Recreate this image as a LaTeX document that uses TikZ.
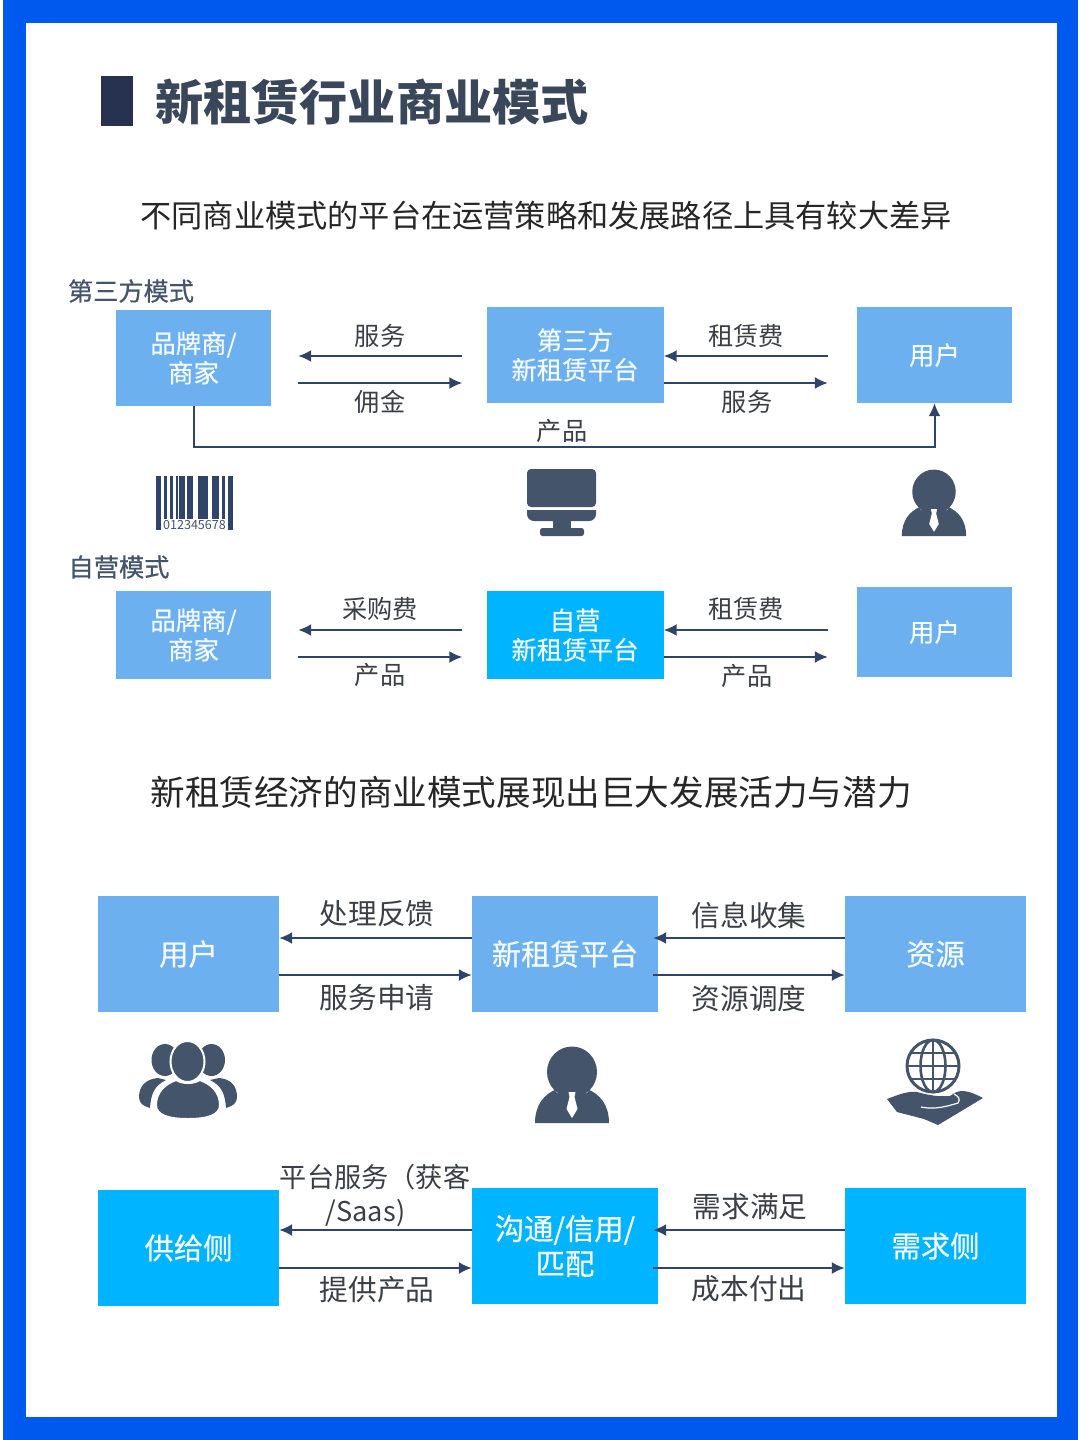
\documentclass[tikz,border=0pt]{standalone}
\usepackage{fontspec}
\setmainfont{Noto Sans CJK SC}
\newfontfamily\medfont[FakeBold=0.6]{Noto Sans CJK SC}
\usetikzlibrary{arrows.meta}

\definecolor{framecol}{HTML}{0059EE}
\definecolor{boxcol}{HTML}{6CB0F0}
\definecolor{cyancol}{HTML}{00B4FF}
\definecolor{iconcol}{HTML}{44546A}
\definecolor{linecol}{HTML}{2F4468}
\definecolor{markcol}{HTML}{26324F}
\definecolor{textcol}{HTML}{3B3F46}

\newcommand{\fs}[1]{\fontsize{#1}{#1}\selectfont}

\tikzset{
  box/.style={minimum width=#1,inner sep=0pt,align=center,text=white!92!boxcol,font=\medfont\fontsize{25.4}{29.5}\selectfont},
  bluebox/.style={box=#1,fill=boxcol},
  cyanbox/.style={box=#1,fill=cyancol},
  label/.style={inner sep=0pt,align=center,text=textcol,font=\fs{25.2}},
  biglabel/.style={inner sep=0pt,align=center,text=textcol,font=\fontsize{28.7}{34}\selectfont},
  flow/.style={->,linecol,line width=2pt},
  personicon/.pic={
    \fill[iconcol] (-37,76) .. controls (-37,58) and (-28,47) .. (-15,42) -- (15,42)
      .. controls (28,47) and (37,58) .. (37,76) -- cycle;
    \fill[white] (-19,40) -- (-15,46) -- (15,46) -- (19,40) -- (19,36) -- (-19,36) -- cycle;
    \fill[iconcol] (-11,42) rectangle (11,50);
    \fill[iconcol] (0,25) ellipse (25 and 25.5);
    \fill[white] (-3.5,45) -- (3.5,45) -- (2.5,50) -- (5.5,62) -- (0,71) -- (-5.5,62) -- (-2.5,50) -- cycle;
  }
}

\begin{document}
\begin{tikzpicture}[x=1pt,y=-1pt,>={Latex[length=13pt,width=12pt]}]
  \useasboundingbox (0,0) rectangle (1080,1440);

  % frame
  \fill[framecol] (3,0) rectangle (1078,1440);
  \fill[white] (26,23) rectangle (1057,1417);

  % headings
  \fill[markcol] (101,76) rectangle (133,126);
  \node[inner sep=0pt,text=iconcol!85!black,font=\bfseries\fs{48.2}] (title) at (372,102) {新租赁行业商业模式};
  \node[inner sep=0pt,text=black!85,font=\fs{31.2}] (sub1) at (546,216) {不同商业模式的平台在运营策略和发展路径上具有较大差异};
  \node[inner sep=0pt,text=black!85,font=\fs{34.6}] (sub2) at (531,792) {新租赁经济的商业模式展现出巨大发展活力与潜力};
  \node[label,text=iconcol,font=\medfont\fs{25.2}] (mode1) at (131,291) {第三方模式};
  \node[label,text=iconcol,font=\medfont\fs{25.2}] (mode2) at (119,567) {自营模式};

  % row 1
  \node[bluebox=155pt,minimum height=96pt] (brand1) at (193.5,358) {品牌商/\\商家};
  \node[bluebox=177pt,minimum height=96pt] (plat1)  at (575,355)   {第三方\\新租赁平台};
  \node[bluebox=155pt,minimum height=96pt] (user1)  at (934.5,355) {用户};
  \coordinate (turn1) at (560,447);

  \draw[flow,shorten <=24pt,shorten >=27pt] ([yshift=-1pt]plat1.west) -- ([yshift=2pt]brand1.east);
  \draw[flow,shorten <=27pt,shorten >=24pt] ([yshift=-25pt]brand1.east) -- ([yshift=-28pt]plat1.west);
  \draw[flow,shorten <=29pt] ([yshift=-1pt]user1.west) -- ([yshift=-1pt]plat1.east);
  \draw[flow,shorten >=29pt] ([yshift=-28pt]plat1.east) -- ([yshift=-28pt]user1.west);
  \draw[flow] (brand1.south) |- (turn1) -| (user1.south);

  \node[label] (l1a) at (380,336) {服务};
  \node[label] (l1b) at (380,402) {佣金};
  \node[label] (l1c) at (746,336) {租赁费};
  \node[label] (l1d) at (747,402) {服务};
  \node[label] (l1e) at (562,431) {产品};

  % barcode
  \foreach \x/\w in {156/4.5,164/3,170/3,176/2,179/5.5,187/6,198/9.5,212/7,222/3,228/5}
    \fill[linecol] (\x,476) rectangle ++(\w,43);
  \fill[linecol] (156,519) rectangle (160.5,530);
  \fill[linecol] (228,519) rectangle (233,530);
  \node[inner sep=0pt,text=iconcol,font=\fs{12.6}] (code) at (194.5,525.5) {012345678};

  % monitor
  \fill[iconcol,rounded corners=4pt] (527,469) rectangle (596,507);
  \fill[iconcol] (527,510) -- (596,510) -- (596,514) arc (0:90:7) -- (534,521) arc (90:180:7) -- cycle;
  \fill[iconcol] (553,520) rectangle (571,529);
  \fill[iconcol,rounded corners=2.5pt] (540,528) rectangle (584,536);

  \pic[scale=.87] (man1) at (934,470) {personicon};

  % row 2
  \node[bluebox=155pt,minimum height=88pt] (brand2) at (193.5,635) {品牌商/\\商家};
  \node[cyanbox=177pt,minimum height=88pt] (plat2)  at (575,635)   {自营\\新租赁平台};
  \node[bluebox=155pt,minimum height=90pt] (user2)  at (934.5,632) {用户};

  \draw[flow,shorten <=24pt,shorten >=27pt] ([yshift=5pt]plat2.west) -- ([yshift=5pt]brand2.east);
  \draw[flow,shorten <=27pt,shorten >=24pt] ([yshift=-22pt]brand2.east) -- ([yshift=-22pt]plat2.west);
  \draw[flow,shorten <=29pt] ([yshift=2pt]user2.west) -- ([yshift=5pt]plat2.east);
  \draw[flow,shorten >=29pt] ([yshift=-22pt]plat2.east) -- ([yshift=-25pt]user2.west);

  \node[label] (l2a) at (380,609) {采购费};
  \node[label] (l2b) at (380,675) {产品};
  \node[label] (l2c) at (746,609) {租赁费};
  \node[label] (l2d) at (747,676) {产品};

  % row 3
  \node[bluebox=181pt,minimum height=116pt,font=\medfont\fs{29.3}] (user3) at (188.5,954) {用户};
  \node[bluebox=186pt,minimum height=116pt,font=\medfont\fs{29.3}] (plat3) at (565,954)   {新租赁平台};
  \node[bluebox=181pt,minimum height=116pt,font=\medfont\fs{29.3}] (res3)  at (935.5,954) {资源};

  \draw[flow] ([yshift=16pt]plat3.west) -- ([yshift=16pt]user3.east);
  \draw[flow] ([yshift=-21pt]user3.east) -- ([yshift=-21pt]plat3.west);
  \draw[flow,shorten >=-5pt] ([yshift=16pt]res3.west) -- ([yshift=16pt]plat3.east);
  \draw[flow,shorten <=-5pt] ([yshift=-21pt]plat3.east) -- ([yshift=-21pt]res3.west);

  \node[biglabel] (l3a) at (377,914) {处理反馈};
  \node[biglabel] (l3b) at (377,998) {服务申请};
  \node[biglabel] (l3c) at (749,915) {信息收集};
  \node[biglabel] (l3d) at (749,999) {资源调度};

  % group icon
  \fill[iconcol] (165,1060) ellipse (13.5 and 16);
  \fill[iconcol] (211.5,1060) ellipse (13.5 and 16);
  \fill[iconcol] (158,1078) .. controls (146,1079) and (139,1086) .. (139,1097) .. controls (139,1103) and (143,1106) .. (150,1108) .. controls (151,1094) and (154,1086) .. (166,1080) -- cycle;
  \fill[iconcol] (219,1078) .. controls (231,1079) and (237,1086) .. (237,1097) .. controls (237,1103) and (233,1106) .. (226,1108) .. controls (225,1094) and (222,1086) .. (210,1080) -- cycle;
  \fill[iconcol,draw=white,line width=2pt] (156,1105) .. controls (156,1092) and (165,1084) .. (176,1080) .. controls (183,1084) and (193,1084) .. (200,1080) .. controls (211,1084) and (220,1092) .. (220,1105) .. controls (220,1115) and (208,1119) .. (188,1119) .. controls (168,1119) and (156,1115) .. (156,1105) -- cycle;
  \fill[iconcol,draw=white,line width=2pt] (187.5,1061.5) ellipse (17 and 20.5);

  \pic (man2) at (572,1047) {personicon};

  % globe and hand
  \draw[iconcol,line width=3pt] (933,1066) circle (26);
  \draw[iconcol,line width=2.6pt] (933,1066) ellipse (12.5 and 26);
  \draw[iconcol,line width=2.6pt] (933,1040) -- (933,1092) (907,1066) -- (959,1066)
    (911,1053) -- (955,1053) (911,1079) -- (955,1079);
  \fill[iconcol] (887,1099) .. controls (900,1094) and (908,1091) .. (917,1092) .. controls (928,1095) and (938,1097) .. (950,1096)
    .. controls (958,1090) and (964,1088) .. (983,1098) -- (938,1125) -- (924,1119) -- (897,1112) -- cycle;
  \draw[white,line width=1.2pt] (921,1107) .. controls (935,1110) and (948,1106) .. (958,1103) .. controls (961,1099) and (958,1096) .. (954,1094);

  % row 4
  \node[cyanbox=181pt,minimum height=116pt,font=\medfont\fs{29.3}] (sup4) at (188.5,1248) {供给侧};
  \node[cyanbox=186pt,minimum height=116pt,font=\medfont\fontsize{29.3}{35}\selectfont] (plat4) at (565,1246) {沟通/信用/\\匹配};
  \node[cyanbox=181pt,minimum height=116pt,font=\medfont\fs{29.3}] (dem4) at (935.5,1246) {需求侧};

  \draw[flow] ([yshift=16pt]plat4.west) -- ([yshift=18pt]sup4.east);
  \draw[flow] ([yshift=-20pt]sup4.east) -- ([yshift=-22pt]plat4.west);
  \draw[flow,shorten >=-5pt] ([yshift=16pt]dem4.west) -- ([yshift=16pt]plat4.east);
  \draw[flow,shorten <=-5pt] ([yshift=-22pt]plat4.east) -- ([yshift=-22pt]dem4.west);

  \node[biglabel,font=\fontsize{27.2}{34}\selectfont] (l4a) at (375,1196) {平台服务（获客\\/Saas)\hspace*{19pt}};
  \node[biglabel] (l4b) at (377,1290) {提供产品};
  \node[biglabel] (l4c) at (750,1207) {需求满足};
  \node[biglabel] (l4d) at (749,1289) {成本付出};
\end{tikzpicture}
\end{document}
